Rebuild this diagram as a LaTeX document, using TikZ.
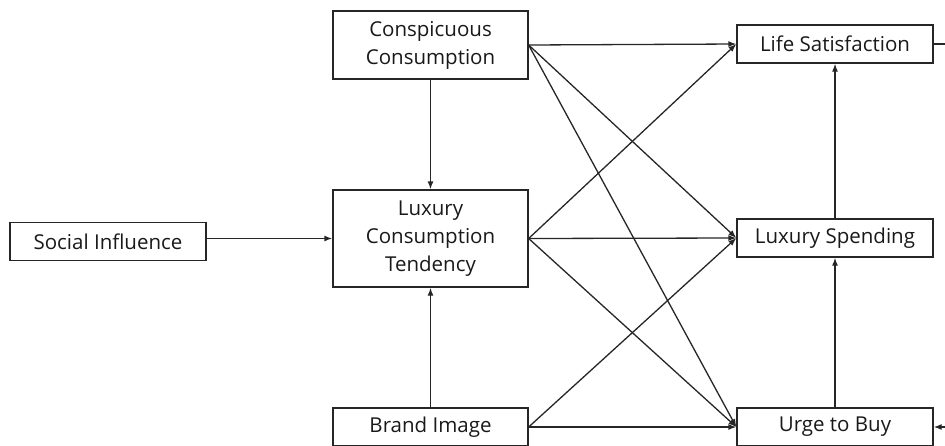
\documentclass[tikz,border=0pt]{standalone}
\usepackage{fontspec}
\setmainfont{Open Sans}
\usetikzlibrary{arrows.meta}
\begin{document}
\begin{tikzpicture}[x=1pt,y=-1pt,
  box/.style={draw=black!85,line width=1.3pt,minimum width=195pt,inner sep=0pt,align=center,font=\fontsize{20.5}{28}\selectfont,text=black!90},
  arr/.style={draw=black!85,line width=1.3pt,-{Latex[length=8pt,width=6pt]}},
  ln/.style={draw=black!85,line width=1.3pt}]
\useasboundingbox (0,0) rectangle (945,445);
\node[box,minimum width=196pt,minimum height=38pt] (si) at (108,241.5) {Social Influence};
\node[box,minimum height=68pt] (cc) at (430.5,45) {Conspicuous\\Consumption};
\node[box,minimum height=97pt] (lct) at (430.5,238.5) {Luxury\\Consumption\\Tendency};
\node[box,minimum height=38pt] (bi) at (430.5,427) {Brand Image};
\node[box,minimum width=196pt,minimum height=38pt] (ls) at (835,44) {Life Satisfaction};
\node[box,minimum width=196pt,minimum height=38pt] (sp) at (835,238) {Luxury Spending};
\node[box,minimum width=196pt,minimum height=38pt] (ub) at (835,427) {Urge to Buy};
\coordinate (rs) at (945,44);
\coordinate (ru) at (945,427);
\draw[arr] (si.east |- lct.west) -- (lct.west);
\draw[arr] (cc) -- (lct);
\draw[arr] (bi) -- (lct);
\draw[arr] (cc.east) -- (ls.west);
\draw[arr] (cc.east) -- (sp.west);
\draw[arr] (cc.east) -- (ub.west);
\draw[arr] (lct.east) -- (ls.west);
\draw[arr] (lct.east) -- (sp.west);
\draw[arr] (lct.east) -- (ub.west);
\draw[arr] (bi.east) -- (sp.west);
\draw[arr] (bi.east) -- (ub.west);
\draw[arr] (ub) -- (sp);
\draw[arr] (sp) -- (ls);
\draw[ln] (ls.east) -- (rs);
\draw[arr] (ru) -- (ub.east);
\end{tikzpicture}
\end{document}
